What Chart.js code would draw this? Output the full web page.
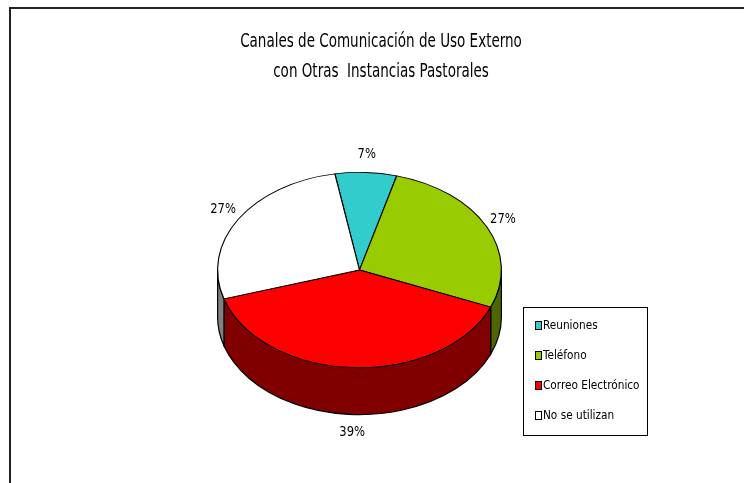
<!DOCTYPE html>
<html>
<head>
<meta charset="utf-8">
<script src="https://cdn.jsdelivr.net/npm/chart.js@4/dist/chart.umd.min.js"></script>
<style>
  html, body { margin: 0; padding: 0; background: #fff; }
  #wrap { position: relative; width: 744px; height: 483px; }
</style>
</head>
<body>
<div id="wrap"><canvas id="c"></canvas></div>
<script>
// ---- data ----
const titleLines = ['Canales de Comunicación de Uso Externo', 'con Otras  Instancias Pastorales'];
const categories = ['Reuniones', 'Teléfono', 'Correo Electrónico', 'No se utilizan'];
const values = [7, 27, 39, 27];
const percentLabels = ['7%', '27%', '39%', '27%'];
const topColors = ['#33CCCC', '#99CC00', '#FF0000', '#FFFFFF'];
const sideColors = ['#1A6666', '#4D6600', '#800000', '#808080'];

// ---- style ----
const FONT = '"DejaVu Sans Condensed", "DejaVu Sans", sans-serif';
const SQUASH = 0.688;   // vertical tilt of the pie
const DEPTH = 47;       // thickness of the pie side

function pieGeom(chart) {
  const meta = chart.getDatasetMeta(0);
  const a = meta.data[0];
  return { meta, cx: a.x, cy: a.y, rx: a.outerRadius, ry: a.outerRadius * SQUASH };
}

function narrowText(ctx, text, x, y, sx) {
  ctx.save();
  ctx.translate(x, y);
  ctx.scale(sx, 1);
  ctx.fillText(text, 0, 0);
  ctx.restore();
}

const pie3d = {
  id: 'pie3d',
  beforeDraw(chart) {
    const ctx = chart.ctx;
    ctx.save();
    ctx.fillStyle = '#fff';
    ctx.fillRect(0, 0, chart.width, chart.height);
    ctx.strokeStyle = '#222';
    ctx.lineWidth = 2;
    ctx.strokeRect(10, 8, chart.width + 20, chart.height + 20);
    ctx.restore();
  },
  beforeDatasetsDraw(chart) {
    const ctx = chart.ctx;
    const { meta, cx, cy, rx, ry } = pieGeom(chart);
    ctx.save();
    meta.data.forEach((arc, i) => {
      const s = arc.startAngle, e = arc.endAngle;
      [[0, Math.PI], [2 * Math.PI, 3 * Math.PI], [-2 * Math.PI, -Math.PI]].forEach(([lo, hi]) => {
        const a = Math.max(s, lo), b = Math.min(e, hi);
        if (b - a <= 1e-4) return;
        ctx.beginPath();
        ctx.moveTo(cx + rx * Math.cos(a), cy + ry * Math.sin(a));
        ctx.ellipse(cx, cy, rx, ry, 0, a, b, false);
        ctx.lineTo(cx + rx * Math.cos(b), cy + ry * Math.sin(b) + DEPTH);
        ctx.ellipse(cx, cy + DEPTH, rx, ry, 0, b, a, true);
        ctx.closePath();
        ctx.fillStyle = sideColors[i];
        ctx.fill();
        ctx.strokeStyle = '#000';
        ctx.lineWidth = 1.2;
        ctx.stroke();
      });
    });
    ctx.restore();
    ctx.save();
    ctx.translate(cx, cy);
    ctx.scale(1, SQUASH);
    ctx.translate(-cx, -cy);
  },
  afterDatasetsDraw(chart) {
    const ctx = chart.ctx;
    ctx.restore();
    const { meta, cx, cy, rx, ry } = pieGeom(chart);
    ctx.save();
    ctx.font = '14px ' + FONT;
    ctx.fillStyle = '#000';
    ctx.textAlign = 'center';
    ctx.textBaseline = 'middle';
    meta.data.forEach((arc, i) => {
      const m = (arc.startAngle + arc.endAngle) / 2;
      const c = Math.cos(m), sn = Math.sin(m);
      const x = cx + rx * c + 18 * c;
      const y = cy + ry * sn + 18 * sn + (sn > 0 ? DEPTH : 0);
      narrowText(ctx, percentLabels[i], x, y, 0.92);
    });
    ctx.restore();
  },
  afterDraw(chart) {
    const ctx = chart.ctx;
    ctx.save();
    ctx.font = '19px ' + FONT;
    ctx.fillStyle = '#000';
    ctx.textAlign = 'center';
    ctx.textBaseline = 'alphabetic';
    titleLines.forEach((t, i) => narrowText(ctx, t, 381, 47 + i * 30, 0.79));
    // legend
    ctx.strokeStyle = '#000';
    ctx.lineWidth = 1;
    ctx.strokeRect(523.5, 307.5, 124, 128);
    ctx.font = '13px ' + FONT;
    ctx.textAlign = 'left';
    ctx.textBaseline = 'middle';
    categories.forEach((name, i) => {
      const y = 325 + i * 30;
      ctx.fillStyle = topColors[i];
      ctx.fillRect(535.5, y - 3.5, 6, 8);
      ctx.strokeRect(535.5, y - 3.5, 6, 8);
      ctx.fillStyle = '#000';
      narrowText(ctx, name, 543, y + 1, 0.9);
    });
    ctx.restore();
  }
};

new Chart(document.getElementById('c'), {
  type: 'pie',
  data: {
    labels: categories,
    datasets: [{
      data: values,
      backgroundColor: topColors,
      borderColor: '#000',
      borderWidth: 1.2,
      clip: false
    }]
  },
  options: {
    responsive: true,
    maintainAspectRatio: false,
    animation: false,
    rotation: -10,
    layout: { padding: { left: 217, right: 242, top: 127, bottom: 70 } },
    plugins: {
      legend: { display: false },
      title: { display: false },
      tooltip: { enabled: false }
    },
    events: []
  },
  plugins: [pie3d]
});
</script>
</body>
</html>
